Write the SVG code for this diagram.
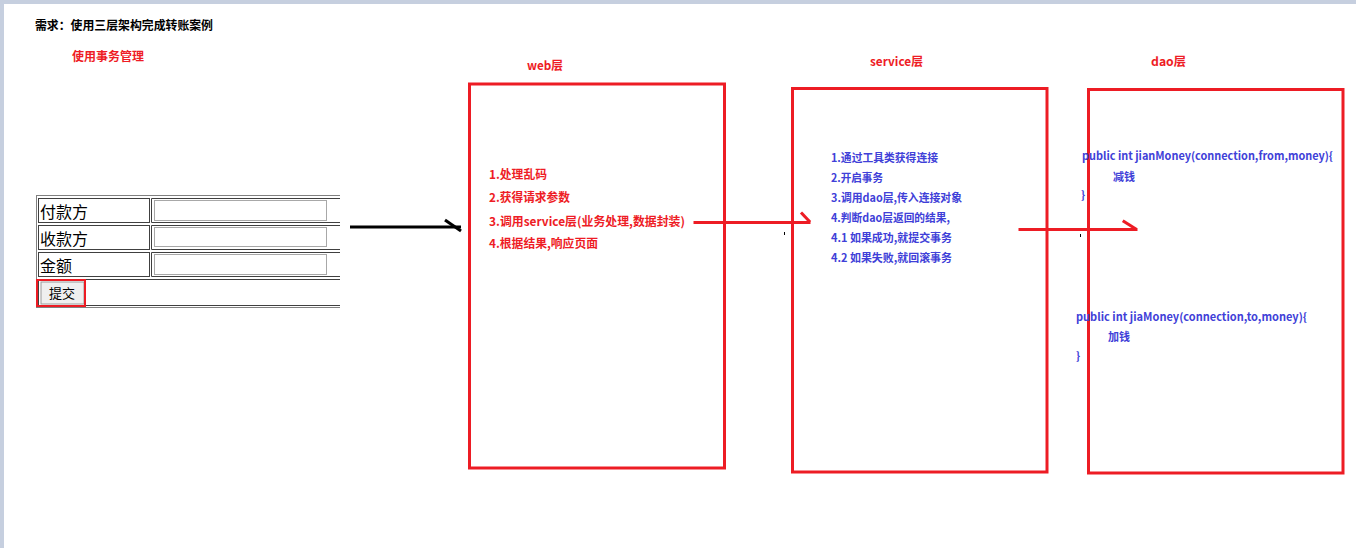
<svg xmlns="http://www.w3.org/2000/svg" width="1356" height="548" viewBox="0 0 1356 548">
<style>
  .b { font-family: "Noto Sans CJK SC", "Liberation Sans", sans-serif; font-weight: bold; }
  .n { font-family: "Noto Sans CJK SC", "Liberation Sans", sans-serif; font-weight: normal; }
  .red { fill: #ee1c25; }
  .blue { fill: #4040d8; }
  .box { fill: none; stroke: #ed1c24; stroke-width: 3; }
  .cell { fill: none; stroke: #404040; stroke-width: 1; }
  .inp { fill: #ffffff; stroke: #a8a8a8; stroke-width: 1; }
  .redline { stroke: #ed1c24; stroke-width: 3; fill: none; stroke-linecap: square; }
  .blkline { stroke: #000000; stroke-width: 3; fill: none; }
</style>
<rect x="0" y="0" width="1356" height="548" fill="#ffffff"/>
<rect x="0" y="0" width="1356" height="4" fill="#c6cfdf"/>
<rect x="0" y="0" width="4" height="548" fill="#c6cfdf"/>

<g id="title">
  <text class="b" x="35" y="30" font-size="12" fill="#000" textLength="178" lengthAdjust="spacingAndGlyphs">需求：使用三层架构完成转账案例</text>
  <text class="b red" x="72" y="60.5" font-size="12" textLength="72" lengthAdjust="spacingAndGlyphs">使用事务管理</text>
</g>

<g id="form">
  <line x1="36" y1="195.5" x2="340" y2="195.5" stroke="#808080"/>
  <line x1="36.5" y1="195" x2="36.5" y2="308" stroke="#808080"/>
  <line x1="36" y1="307.5" x2="340" y2="307.5" stroke="#808080"/>
  <rect class="cell" x="38.5" y="198.5" width="111" height="24"/>
  <path class="cell" d="M340 198.5 H151.5 V222.5 H340"/>
  <rect class="cell" x="38.5" y="225.5" width="111" height="24"/>
  <path class="cell" d="M340 225.5 H151.5 V249.5 H340"/>
  <rect class="cell" x="38.5" y="252.5" width="111" height="24"/>
  <path class="cell" d="M340 252.5 H151.5 V276.5 H340"/>
  <path class="cell" d="M340 279.5 H38.5 V305.5 H340"/>
  <rect class="inp" x="154.5" y="200.5" width="172" height="20"/>
  <rect class="inp" x="154.5" y="227.5" width="172" height="19"/>
  <rect class="inp" x="154.5" y="254.5" width="172" height="20"/>
  <text class="n" x="40" y="218" font-size="16" fill="#000">付款方</text>
  <text class="n" x="40" y="245" font-size="16" fill="#000">收款方</text>
  <text class="n" x="40" y="272" font-size="16" fill="#000">金额</text>
  <rect x="41" y="282" width="43" height="22" fill="#efefef" stroke="#9a9a9a"/>
  <text class="n" x="49" y="298" font-size="13" fill="#000">提交</text>
  <rect x="37" y="280" width="48" height="26" fill="none" stroke="#ed1c24" stroke-width="2"/>
</g>

<g id="web">
  <rect class="box" x="469.5" y="84" width="255" height="384"/>
  <text class="b red" x="527" y="69.5" font-size="12" textLength="36" lengthAdjust="spacingAndGlyphs">web层</text>
  <text class="b red" x="489" y="179" font-size="12" textLength="58" lengthAdjust="spacingAndGlyphs">1.处理乱码</text>
  <text class="b red" x="489" y="202" font-size="12" textLength="81" lengthAdjust="spacingAndGlyphs">2.获得请求参数</text>
  <text class="b red" x="489" y="225.5" font-size="12" textLength="196" lengthAdjust="spacingAndGlyphs">3.调用service层(业务处理,数据封装)</text>
  <text class="b red" x="489" y="248" font-size="12" textLength="109" lengthAdjust="spacingAndGlyphs">4.根据结果,响应页面</text>
</g>

<g id="service">
  <rect class="box" x="792.5" y="88.5" width="254.5" height="383.5"/>
  <text class="b red" x="870" y="66" font-size="12" textLength="53" lengthAdjust="spacingAndGlyphs">service层</text>
  <text class="b blue" x="831" y="162" font-size="11" textLength="107" lengthAdjust="spacingAndGlyphs">1.通过工具类获得连接</text>
  <text class="b blue" x="831" y="182" font-size="11" textLength="52" lengthAdjust="spacingAndGlyphs">2.开启事务</text>
  <text class="b blue" x="831" y="202" font-size="11" textLength="131" lengthAdjust="spacingAndGlyphs">3.调用dao层,传入连接对象</text>
  <text class="b blue" x="831" y="222" font-size="11" textLength="119" lengthAdjust="spacingAndGlyphs">4.判断dao层返回的结果,</text>
  <text class="b blue" x="831" y="242" font-size="11" textLength="121" lengthAdjust="spacingAndGlyphs">4.1 如果成功,就提交事务</text>
  <text class="b blue" x="831" y="262" font-size="11" textLength="121" lengthAdjust="spacingAndGlyphs">4.2 如果失败,就回滚事务</text>
</g>

<g id="dao">
  <rect class="box" x="1088.5" y="89.5" width="254.5" height="383.5"/>
  <text class="b red" x="1151" y="65.5" font-size="12" textLength="35" lengthAdjust="spacingAndGlyphs">dao层</text>
  <text class="b blue" x="1082" y="160" font-size="11" textLength="251" lengthAdjust="spacingAndGlyphs">public int jianMoney(connection,from,money){</text>
  <text class="b blue" x="1113" y="181" font-size="11">减钱</text>
  <text class="b blue" x="1081" y="199" font-size="11">}</text>
  <text class="b blue" x="1076" y="321" font-size="11" textLength="231" lengthAdjust="spacingAndGlyphs">public int jiaMoney(connection,to,money){</text>
  <text class="b blue" x="1108" y="341" font-size="11">加钱</text>
  <text class="b blue" x="1076" y="360" font-size="11">}</text>
</g>

<g id="connectors">
  <line class="blkline" x1="350" y1="227" x2="461" y2="227"/>
  <line class="blkline" x1="445" y1="220" x2="461" y2="231"/>
  <line class="redline" x1="695" y1="222.5" x2="809" y2="222.5"/>
  <line class="redline" x1="802" y1="213.5" x2="809" y2="221"/>
  <line class="redline" x1="1020" y1="229.5" x2="1136" y2="229.5"/>
  <line class="redline" x1="1124" y1="221.5" x2="1135" y2="228.5"/>
  <rect x="784" y="232" width="1" height="3" fill="#000"/>
  <rect x="1080" y="234" width="1" height="3" fill="#000"/>
</g>
</svg>
